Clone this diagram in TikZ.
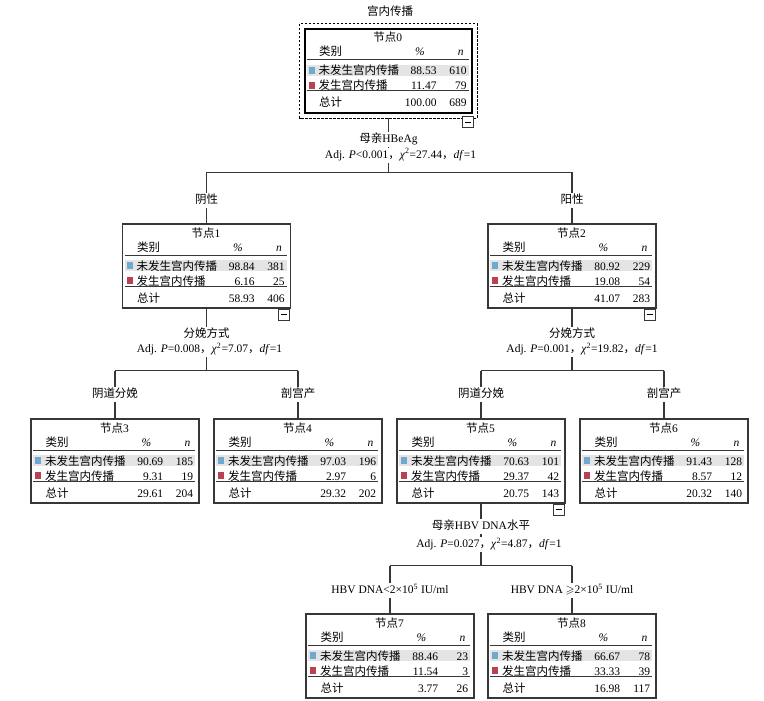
\documentclass[tikz,border=0pt]{standalone}
\usepackage{fontspec}
\usepackage{amssymb}
\setmainfont{Liberation Serif}
\newfontfamily\cn{Noto Sans CJK SC}
\usetikzlibrary{calc}
\definecolor{sqblue}{RGB}{110,170,205}
\definecolor{sqred}{RGB}{185,65,80}
\definecolor{rowgray}{RGB}{228,228,228}
\definecolor{linec}{RGB}{55,55,55}
\tikzset{
  txt/.style={inner sep=0pt, text height=8.5pt, text depth=2.5pt, font=\fontsize{11.5}{13}\selectfont},
  lbl/.style={txt, fill=white, inner xsep=1pt, inner ysep=2pt},
  box/.style={draw=linec, line width=1.2pt, minimum width=168pt, minimum height=84pt, inner sep=0pt},
  rootbox/.style={draw=black, line width=2.4pt, minimum width=167pt, minimum height=84pt, inner sep=0pt},
  conn/.style={draw=linec, line width=1.4pt},
  minusbox/.style={draw=linec, line width=1pt, fill=white, minimum width=11pt, minimum height=11pt, inner sep=0pt, anchor=north east},
}
\newcommand{\tcontent}[9]{%
  \begin{scope}[shift={(n#1.north west)}]
    \fill[rowgray] (3,37) rectangle (165,48);
    \fill[sqblue] (5,39) rectangle (11,46);
    \fill[sqred] (5,54) rectangle (11,61);
    \draw[linec, line width=1pt] (3,32) -- (165,32);
    \draw[linec, line width=1.3pt] (3,63) -- (165,63);
    \node[txt] (n#1t) at (84,11) {{\cn 节点}#1};
    \node[txt, anchor=west] (n#1h) at (15,25) {\cn 类别};
    \node[txt] (n#1hp) at (116,25) {\textit{\%}};
    \node[txt] (n#1hn) at (157,25) {\textit{n}};
    \node[txt, anchor=west] (n#1a) at (14.5,44) {\cn 未发生宫内传播};
    \node[txt, anchor=east] (n#1ap) at (133,44) {#2};
    \node[txt, anchor=east] (n#1an) at (163,44) {#3};
    \node[txt, anchor=west] (n#1b) at (14.5,59) {\cn 发生宫内传播};
    \node[txt, anchor=east] (n#1bp) at (133,59) {#4};
    \node[txt, anchor=east] (n#1bn) at (163,59) {#5};
    \node[txt, anchor=west] (n#1c) at (15,76) {\cn 总计};
    \node[txt, anchor=east] (n#1cp) at (133,76) {#6};
    \node[txt, anchor=east] (n#1cn) at (163,76) {#7};
  \end{scope}}
\newcommand{\tnode}[9]{%
  \node[box] (n#1) at ({#2},{#3+42}) {};
  \tcontent{#1}{#4}{#5}{#6}{#7}{#8}{#9}{}{}}
\begin{document}
\begin{tikzpicture}[x=1pt,y=-1pt]
\useasboundingbox (0,0) rectangle (764,701);
\fill[white] (0,0) rectangle (764,701);

\node[txt] (title) at (390,13) {\cn 宫内传播};

% root node
\node[rootbox] (n0) at (388.5,71) {};
\draw[black, line width=1.3pt, dash pattern=on 2.5pt off 1.5pt]
  ([xshift=-4pt,yshift=4pt]n0.north west) rectangle ([xshift=4pt,yshift=-4pt]n0.south east);
\tcontent{0}{88.53}{610}{11.47}{79}{100.00}{689}{}{}

\tnode{1}{206.5}{224}{98.84}{381}{6.16}{25}{58.93}{406}
\tnode{2}{572}{224}{80.92}{229}{19.08}{54}{41.07}{283}
\tnode{3}{115}{419}{90.69}{185}{9.31}{19}{29.61}{204}
\tnode{4}{298}{419}{97.03}{196}{2.97}{6}{29.32}{202}
\tnode{5}{481}{419}{70.63}{101}{29.37}{42}{20.75}{143}
\tnode{6}{664}{419}{91.43}{128}{8.57}{12}{20.32}{140}
\tnode{7}{390}{614}{88.46}{23}{11.54}{3}{3.77}{26}
\tnode{8}{572}{614}{66.67}{78}{33.33}{39}{16.98}{117}

% connectors
\path (n0.south) ++(0,58) coordinate (j0);
\path (n1.south) ++(0,62) coordinate (j1);
\path (n2.south) ++(0,62) coordinate (j2);
\path (n5.south) ++(0,62) coordinate (j5);

\draw[conn] ([yshift=-4pt]n0.south) -- (j0);
\draw[conn] (j0 -| n1.north) -- (j0 -| n2.north);
\draw[conn] (j0 -| n1.north) -- (n1.north);
\draw[conn] (j0 -| n2.north) -- (n2.north);

\draw[conn] (n1.south) -- (j1);
\draw[conn] (j1 -| n3.north) -- (j1 -| n4.north);
\draw[conn] (j1 -| n3.north) -- (n3.north);
\draw[conn] (j1 -| n4.north) -- (n4.north);

\draw[conn] (n2.south) -- (j2);
\draw[conn] (j2 -| n5.north) -- (j2 -| n6.north);
\draw[conn] (j2 -| n5.north) -- (n5.north);
\draw[conn] (j2 -| n6.north) -- (n6.north);

\draw[conn] (n5.south) -- (j5);
\draw[conn] (j5 -| n7.north) -- (j5 -| n8.north);
\draw[conn] (j5 -| n7.north) -- (n7.north);
\draw[conn] (j5 -| n8.north) -- (n8.north);

% collapse boxes
\node[minusbox] (m0) at ([xshift=1pt,yshift=-2pt]n0.south east) {\rule{6pt}{1pt}};
\node[minusbox] (m1) at ([xshift=-1pt]n1.south east) {\rule{6pt}{1pt}};
\node[minusbox] (m2) at ([xshift=-1pt]n2.south east) {\rule{6pt}{1pt}};
\node[minusbox] (m5) at ([xshift=-1pt]n5.south east) {\rule{6pt}{1pt}};

% split labels
\node[lbl] (s0a) at ($(n0.south)+(0,25)$) {{\cn 母亲}HBeAg};
\node[lbl] (s0b) at ($(n0.south)+(12,41)$) {Adj. \textit{P}<0.001{\cn ，}\textit{χ}\textsuperscript{2}=27.44{\cn ，}\textit{df}=1};
\node[lbl] (s1a) at ($(n1.south)+(0,26)$) {\cn 分娩方式};
\node[lbl] (s1b) at ($(n1.south)+(3,41)$) {Adj. \textit{P}=0.008{\cn ，}\textit{χ}\textsuperscript{2}=7.07{\cn ，}\textit{df}=1};
\node[lbl] (s2a) at ($(n2.south)+(0,26)$) {\cn 分娩方式};
\node[lbl] (s2b) at ($(n2.south)+(10,41)$) {Adj. \textit{P}=0.001{\cn ，}\textit{χ}\textsuperscript{2}=19.82{\cn ，}\textit{df}=1};
\node[lbl] (s5a) at ($(n5.south)+(0,23)$) {{\cn 母亲}HBV DNA{\cn 水平}};
\node[lbl] (s5b) at ($(n5.south)+(8,41)$) {Adj. \textit{P}=0.027{\cn ，}\textit{χ}\textsuperscript{2}=4.87{\cn ，}\textit{df}=1};

% edge labels
\node[lbl] (e1) at ($(n1.north)+(0,-23)$) {\cn 阴性};
\node[lbl] (e2) at ($(n2.north)+(0,-23)$) {\cn 阳性};
\node[lbl] (e3) at ($(n3.north)+(0,-24)$) {\cn 阴道分娩};
\node[lbl] (e4) at ($(n4.north)+(0,-24)$) {\cn 剖宫产};
\node[lbl] (e5) at ($(n5.north)+(0,-24)$) {\cn 阴道分娩};
\node[lbl] (e6) at ($(n6.north)+(0,-24)$) {\cn 剖宫产};
\node[lbl] (e7) at ($(n7.north)+(0,-23)$) {HBV DNA<2×10\textsuperscript{5} IU/ml};
\node[lbl] (e8) at ($(n8.north)+(0,-23)$) {HBV DNA $\geqslant$2×10\textsuperscript{5} IU/ml};
\end{tikzpicture}
\end{document}
